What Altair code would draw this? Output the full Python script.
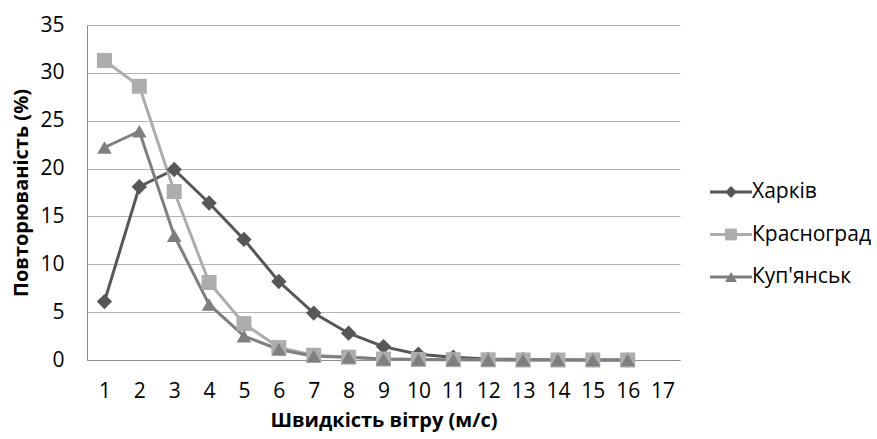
import altair as alt
import pandas as pd

speeds = list(range(1, 17))
series = ["Харків", "Красноград", "Куп'янськ"]
kharkiv = [6.1, 18.1, 19.9, 16.4, 12.6, 8.2, 4.9, 2.8, 1.4, 0.6, 0.3, 0.1, 0.05, 0.02, 0.0, 0.0]
krasnograd = [31.3, 28.6, 17.6, 8.1, 3.8, 1.3, 0.5, 0.3, 0.1, 0.05, 0.03, 0.02, 0.0, 0.0, 0.0, 0.0]
kupiansk = [22.2, 23.9, 13.0, 5.8, 2.5, 1.1, 0.4, 0.3, 0.1, 0.05, 0.03, 0.02, 0.0, 0.0, 0.0, 0.0]
x_ticks = list(range(1, 18))
y_ticks = [0, 5, 10, 15, 20, 25, 30, 35]

colors = ["#575757", "#adadad", "#7f7f7f"]
shapes = ["diamond", "square", "triangle-up"]
sizes = [235, 215, 215]
FONT = "Open Sans"

rows = []
for name, vals in zip(series, [kharkiv, krasnograd, kupiansk]):
    for s, v in zip(speeds, vals):
        rows.append({"speed": s, "value": v, "series": name})
df = pd.DataFrame(rows)
leg = pd.DataFrame({"series": series})

color = alt.Color("series:N", scale=alt.Scale(domain=series, range=colors), legend=None)
shape = alt.Shape("series:N", scale=alt.Scale(domain=series, range=shapes), legend=None)
size = alt.Size("series:N", scale=alt.Scale(domain=series, range=sizes), legend=None)

x = alt.X("speed:Q", scale=alt.Scale(domain=[0.5, 17.5], nice=False, zero=False),
          axis=alt.Axis(values=x_ticks, grid=False, ticks=False, domainColor="#8c8c8c",
                        labelFont=FONT, labelFontSize=21, labelColor="#000000", labelPadding=20,
                        title="Швидкість вітру (м/с)", titleFont=FONT, titleFontSize=20,
                        titleFontWeight="bold", titleColor="#000000", titlePadding=9,
                        labelFlush=False))
y = alt.Y("value:Q", scale=alt.Scale(domain=[0, 35], nice=False),
          axis=alt.Axis(values=y_ticks, grid=True, gridColor="#b4b4b4", ticks=False,
                        domainColor="#8c8c8c", labelFont=FONT, labelFontSize=21,
                        labelColor="#000000", labelPadding=23,
                        title="Повторюваність (%)", titleFont=FONT, titleFontSize=20,
                        titleFontWeight="bold", titleColor="#000000", titlePadding=8))

lines = alt.Chart(df).mark_line(strokeWidth=3).encode(x=x, y=y, color=color,
                                                        order=alt.Order("speed:Q"))
points = alt.Chart(df).mark_point(filled=True, opacity=1).encode(
    x=x, y=y, color=color, shape=shape, size=size)

ly = alt.Y("series:N", sort=series,
           scale=alt.Scale(type="point", domain=series, range=[167, 252], padding=0), axis=None)
leg_rule = alt.Chart(leg).mark_rule(strokeWidth=3).encode(
    x=alt.value(623), x2=alt.value(665), y=ly, color=color)
leg_pt = alt.Chart(leg).mark_point(filled=True, opacity=1, size=140).encode(
    x=alt.value(644), y=ly, color=color, shape=shape)
leg_txt = alt.Chart(leg).mark_text(align="left", baseline="middle", font=FONT, fontSize=21,
                                   color="#000000").encode(
    x=alt.value(665), y=ly, text="series:N")

main = alt.layer(lines, points)
legend = alt.layer(leg_rule, leg_pt, leg_txt)

chart = alt.layer(main, legend).resolve_scale(y="independent").properties(
    width=593, height=335,
    autosize=alt.AutoSizeParams(type="none"),
    padding={"left": 87, "top": 25, "right": 197, "bottom": 79},
    background="#ffffff",
).configure_view(stroke=None)

chart.save("out.html", embed_options={"renderer": "svg", "actions": False})
